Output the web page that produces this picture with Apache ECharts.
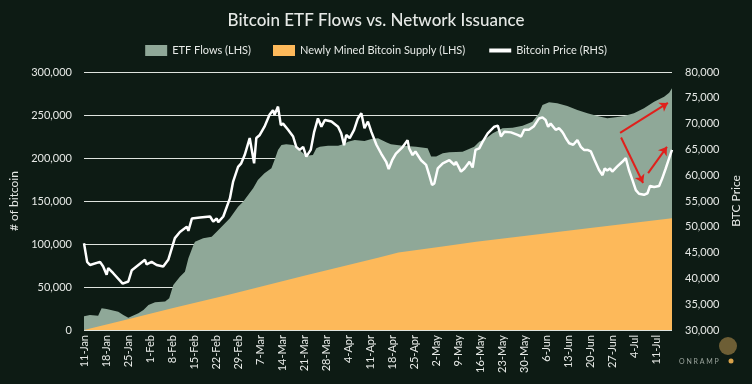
<!DOCTYPE html>
<html>
<head>
<meta charset="utf-8">
<script src="https://cdn.jsdelivr.net/npm/echarts@6/dist/echarts.min.js"></script>
<style>
html,body{margin:0;padding:0;background:#0d1b14;}
#c{width:752px;height:384px;}
</style>
</head>
<body>
<div id="c"></div>
<script>
// x positions are day offsets from 11-Jan-2024
var priceDays = [0,1,1.9,5.1,6.1,7.2,7.7,9.3,12.3,14.1,15.2,17.3,19.4,19.9,21.5,23.1,25.2,26.8,28.9,30.5,32.7,33.2,34.3,36.9,40.1,41.1,42.2,42.7,44.3,46.4,47.4,49,50,51.1,52.7,53.2,54.1,54.8,55.9,57.4,59,60.1,60.6,61.7,62.6,63.3,64.9,66.5,67.5,68.6,69.7,70.7,72.1,73.2,74.4,75.5,76.6,78.7,80.8,81.8,82.7,83.4,84.5,85.9,87.1,88.2,89.2,90.3,91.4,93,94.5,96.1,96.9,98,99.2,101.4,102.9,103.4,104.5,105.4,107.2,108.8,109.8,110.7,111.4,112.5,114.1,116.2,117.8,118.3,119.9,121,122.6,123.6,124.5,125.7,126.8,128.4,130.5,131.6,132.6,133.7,135.8,137.9,139,140,141.5,143.1,144.7,145.8,146.8,147.6,148.4,150,151.1,152.1,152.7,153.2,154.3,155.6,156.9,158,159,160.1,161.2,162.4,163.8,164.9,165.6,166.4,167.3,168,169.6,171.2,172.3,173.3,174.4,175.5,176.5,178.1,179.2,180,181.3,182.9,183.9,185,186.1,187];
var priceVals = [46800,43200,42600,43200,42300,40700,42000,41000,39000,39400,41600,42600,43600,42700,43200,42600,42300,43600,47800,49000,50000,49200,51600,51800,52000,51000,51600,50900,52000,55500,58700,61600,62300,63900,67200,67500,62300,67200,67800,69400,71700,72600,71700,73300,69700,70000,68800,67500,65500,64900,65500,63600,64900,68400,71000,69400,70700,70400,69400,68100,65800,67800,67200,68800,71000,72000,69100,70400,68400,65900,64200,62600,61200,62900,64200,65500,66800,65200,63900,64600,62900,62000,60000,58100,58400,61300,62300,62900,62000,62600,60700,61300,62600,61500,64900,65200,66500,68100,69400,69600,67500,68400,68300,67800,67500,68800,68800,69500,71000,71200,70700,69400,70000,68800,69100,68400,67800,67200,66200,65900,66800,65500,64900,64900,64600,62900,61000,60000,61300,60900,61300,60700,61700,62600,63300,61000,59100,57100,56400,56200,56500,57900,57700,57900,59400,61300,63300,64900];

var etfDays = [0,1.9,4.5,5.6,6.1,7.2,10.9,12.5,14.1,17.3,18.9,20.5,22.6,25.8,27.1,28.4,30.5,32.1,33.2,34.8,35.3,37.9,40.6,42.2,44.3,46.4,49,50.6,52.2,53.8,55.3,57.4,59.6,60.6,61.7,62.8,64.3,66.5,68.1,69.1,70.7,72.8,73.9,75,77.6,80.8,82.4,84,86.1,89.2,91.4,93.5,96.1,97.6,101.4,105.6,109.3,110.4,112,114.1,116.2,120.4,124.1,125.7,127.9,130,133.1,136.3,139.5,142.6,144.7,145.8,147.9,150.5,153.7,156.9,160.1,163.3,166.4,169.1,171.8,174.9,178.1,181.3,184.5,186.1,187];
var etfVals = [16000,17400,16700,25200,27100,24400,21300,17400,14300,19400,23300,29000,32200,33000,36800,52300,62000,67800,83300,98800,102700,106600,108500,114300,122000,129800,143400,149200,157000,164700,174400,182200,188000,197700,209300,215100,215900,215100,211200,207400,202700,203500,211200,213200,214300,214300,215900,219000,220900,219800,222100,222900,218200,215900,214300,213200,211200,201600,201600,205400,206600,207400,213200,219000,222900,228700,234500,235300,237600,242200,252000,261600,264700,263600,260500,255800,252000,248800,246100,247300,248800,252000,257800,265500,271300,276000,281000];

var minedDays = [0,14,28,46,70,93.5,100,114,124.7,140.6,161,187];
var minedVals = [0,12600,25200,41000,63000,84000,90000,97000,102500,109500,118500,130000];

// annotation arrows (day, BTC price)
var arrows = [
  [[170.5,68200],[185.7,74000]],
  [[170.8,67300],[177.8,58500]],
  [[179.4,60400],[185.4,65500]]
];

var seriesNames = ['ETF Flows (LHS)','Newly Mined Bitcoin Supply (LHS)','Bitcoin Price (RHS)'];
var leftTicks = {min:0,max:300000,interval:50000};
var rightTicks = {min:30000,max:80000,interval:5000};

var months = ['Jan','Feb','Mar','Apr','May','Jun','Jul','Aug','Sep','Oct','Nov','Dec'];
var dates = [];
for (var i = 0; i < 188; i++) {
  var d = new Date(2024, 0, 11 + i);
  dates.push(d.getDate() + '-' + months[d.getMonth()]);
}
function pairs(xs, ys){ return xs.map(function(x,i){return [x, ys[i]];}); }

var FONT = 'Lato';
var TXT = '#e6e9e6';
var chart = echarts.init(document.getElementById('c'));
chart.setOption({
  backgroundColor:'#0d1b14',
  animation:false,
  textStyle:{fontFamily:FONT},
  title:{text:'Bitcoin ETF Flows vs. Network Issuance',left:'center',top:7,
    textStyle:{color:TXT,fontSize:17,fontWeight:500,fontFamily:FONT}},
  legend:{top:40,left:'center',itemGap:22,itemWidth:22,itemHeight:11,
    textStyle:{color:TXT,fontSize:11,fontFamily:FONT},
    data:[{name:seriesNames[0],icon:'rect'},{name:seriesNames[1],icon:'rect'},
      {name:seriesNames[2],itemStyle:{opacity:0},lineStyle:{width:4,color:'#ffffff'}}]},
  grid:{left:84,right:80,top:72,bottom:54},
  xAxis:{type:'value',min:0,max:187,interval:7,
    axisLine:{show:false},axisTick:{show:false},splitLine:{show:false},
    axisLabel:{rotate:90,color:TXT,fontSize:11,margin:5,showMaxLabel:false,
      formatter:function(v){return dates[v]||'';}}},
  yAxis:[
    {type:'value',min:leftTicks.min,max:leftTicks.max,interval:leftTicks.interval,
      name:'# of bitcoin',nameLocation:'middle',nameGap:64,nameRotate:90,
      nameTextStyle:{color:TXT,fontSize:12,fontFamily:FONT},
      axisLine:{show:false},axisTick:{show:false},
      axisLabel:{color:TXT,fontSize:11,margin:12},
      splitLine:{lineStyle:{color:'#dfe4df',width:1}}},
    {type:'value',min:rightTicks.min,max:rightTicks.max,interval:rightTicks.interval,
      name:'BTC Price',nameLocation:'middle',nameGap:58,nameRotate:90,
      nameTextStyle:{color:TXT,fontSize:12,fontFamily:FONT},
      axisLine:{show:false},axisTick:{show:false},
      axisLabel:{color:TXT,fontSize:11,margin:13},
      splitLine:{show:false}}
  ],
  series:[
    {name:seriesNames[0],type:'line',yAxisIndex:0,data:pairs(etfDays,etfVals),
      symbol:'none',itemStyle:{color:'#8fa898'},lineStyle:{width:0},
      areaStyle:{color:'#8fa898',opacity:1}},
    {name:seriesNames[1],type:'line',yAxisIndex:0,data:pairs(minedDays,minedVals),
      symbol:'none',itemStyle:{color:'#fdb95a'},lineStyle:{width:0},
      areaStyle:{color:'#fdb95a',opacity:1}},
    {name:seriesNames[2],type:'line',yAxisIndex:1,data:pairs(priceDays,priceVals),
      symbol:'none',itemStyle:{color:'#ffffff'},lineStyle:{color:'#ffffff',width:2.5},
      markLine:{silent:true,symbol:['none','arrow'],symbolSize:8,label:{show:false},
        lineStyle:{color:'#e0201c',width:2,type:'solid'},
        data:arrows.map(function(a){return [{coord:a[0]},{coord:a[1]}];})}}
  ],
  graphic:[
    {type:'text',left:679,top:358,style:{text:'O N R A M P',fill:'#9aa39c',font:'7px Lato'}},
    {type:'circle',shape:{cx:728,cy:346,r:9},style:{fill:'rgba(190,150,80,0.55)'}},
    {type:'circle',shape:{cx:731,cy:361,r:2.5},style:{fill:'#d8a24a'}}
  ]
});
</script>
</body>
</html>
